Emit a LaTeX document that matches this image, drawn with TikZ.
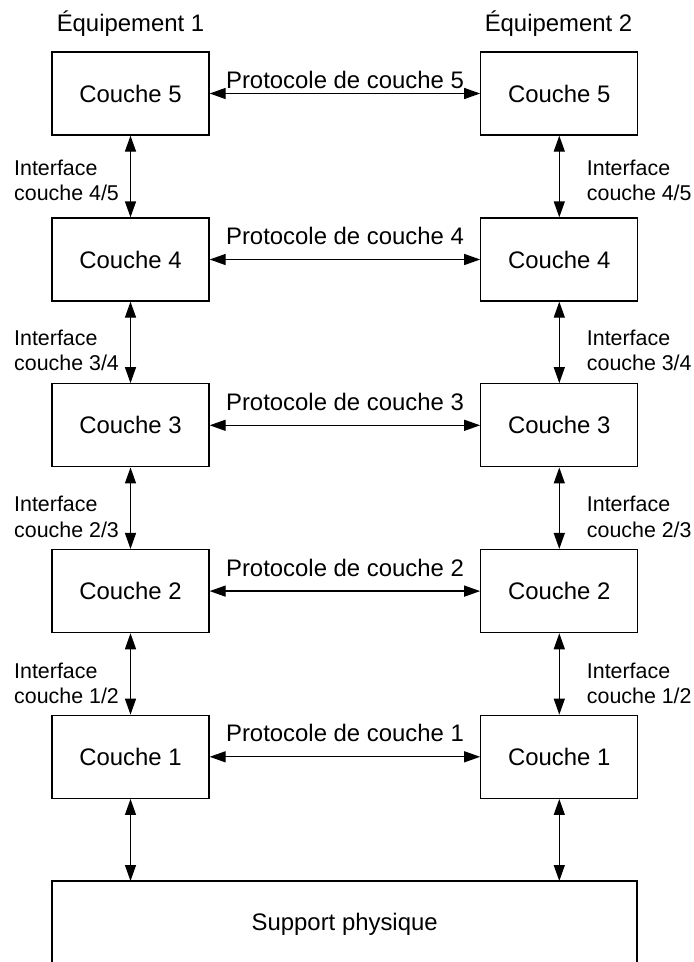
\documentclass[tikz,border=0pt]{standalone}
\usepackage{fontspec}
\setmainfont{Liberation Sans}
\usetikzlibrary{arrows.meta}
\begin{document}
\begin{tikzpicture}[x=1pt,y=-1pt,
  layerbox/.style={draw,line width=1.3pt,minimum width=157pt,minimum height=83pt,inner sep=0pt,font=\fontsize{23.9}{28}\selectfont},
  lbl/.style={inner sep=0pt,font=\fontsize{23.9}{28}\selectfont},
  ilbl/.style={inner sep=0pt,anchor=base west,font=\fontsize{21.4}{25}\selectfont},
  biarrow/.style={line width=1.3pt,{Triangle[length=16pt,width=11pt]}-{Triangle[length=16pt,width=11pt]}}]
\useasboundingbox (0,0) rectangle (694,962);
% titles
\node[lbl,anchor=base] (t1) at (130.5,31.7) {Équipement 1};
\node[lbl,anchor=base] (t2) at (558.5,31.7) {Équipement 2};
% boxes
\foreach \n/\y in {5/93.5,4/259.5,3/425.3,2/591.1,1/756.8}{
  \node[layerbox] (L\n) at (130.5,\y) {Couche \n};
  \node[layerbox] (R\n) at (559.3,\y) {Couche \n};
}
% support
\path[draw,line width=1.3pt] (52,881) -- (637,881) -- (637,975) -- (52,975) -- cycle;
\node[lbl,anchor=base] (sup) at (344.7,930) {Support physique};
\coordinate (SL) at (130.5,881);
\coordinate (SR) at (559.3,881);
% protocol arrows
\foreach \n in {5,4,3,2,1}{
  \draw[biarrow] (L\n.east) -- (R\n.west);
}
\node[lbl,anchor=base] (p5) at (345,88.3) {Protocole de couche 5};
\foreach \n/\y in {4/259.5,3/425.3,2/591.1,1/756.8}{
  \node[lbl,anchor=base] (p\n) at (345,\y-15) {Protocole de couche \n};
}
% interface arrows
\foreach \a/\b in {5/4,4/3,3/2,2/1}{
  \draw[biarrow] (L\a.south) -- (L\b.north);
  \draw[biarrow] (R\a.south) -- (R\b.north);
}
\draw[biarrow] (L1.south) -- (SL);
\draw[biarrow] (R1.south) -- (SR);
% interface labels
\foreach \a/\b/\m in {4/5/175,3/4/345,2/3/511.8,1/2/678.3}{
  \node[ilbl] (il\a) at (14,\m) {Interface};
  \node[ilbl] (jl\a) at (14,\m+25.5) {couche \a/\b};
  \node[ilbl] (ir\a) at (586.7,\m) {Interface};
  \node[ilbl] (jr\a) at (586.7,\m+25.5) {couche \a/\b};
}
\end{tikzpicture}
\end{document}
